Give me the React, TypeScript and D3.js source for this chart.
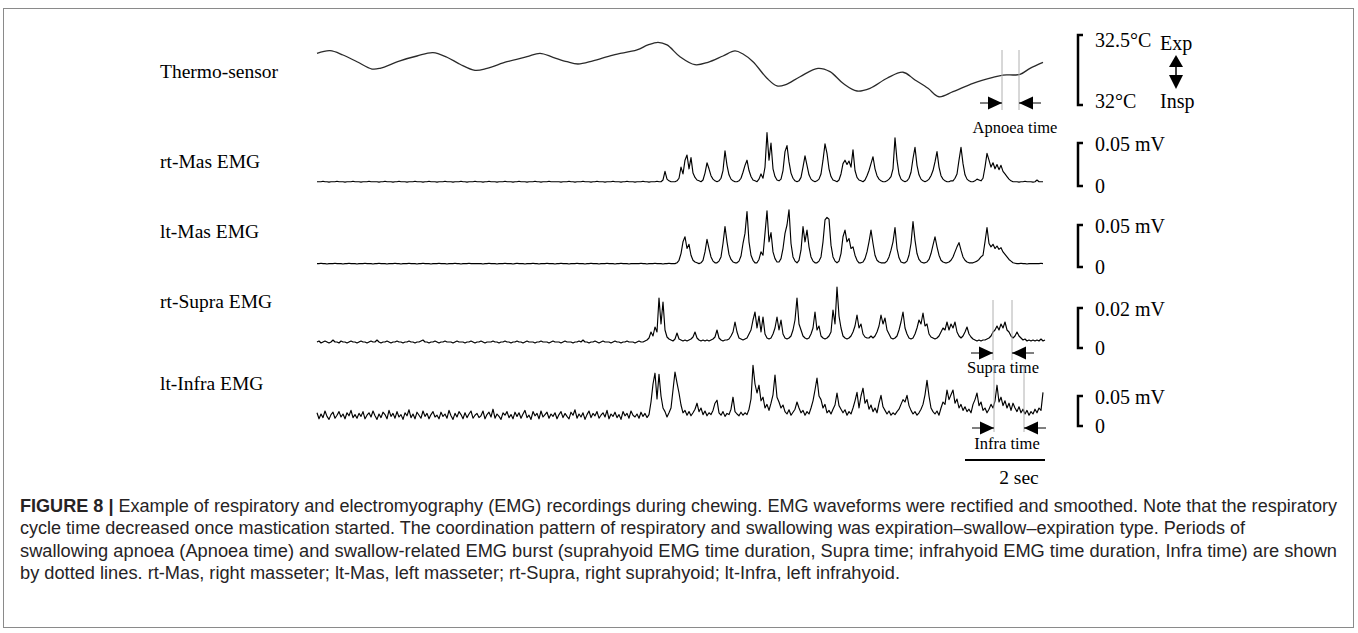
import React from 'react';
import * as d3 from 'd3';

// ---------------- DATA ----------------
const SAMPLE_DT = 0.05; // seconds between EMG samples
const TIME_DOMAIN: [number, number] = [0, 18.2];

// Thermo-sensor (nasal temperature, °C) breakpoints
const thermoTime = [0, 0.325, 0.65, 1.0, 1.375, 1.575, 2.075, 2.5, 2.9, 3.25, 3.575, 3.95, 4.25, 4.75, 5.25, 5.575, 5.9, 6.25, 6.525, 6.9, 7.4, 8.0, 8.275, 8.525, 8.75, 9.075, 9.45, 9.775, 10.15, 10.45, 10.65, 10.9, 11.25, 11.5, 11.7, 12.075, 12.525, 12.825, 13.15, 13.5, 13.825, 14.25, 14.65, 14.95, 15.275, 15.55, 15.9, 16.4, 16.9, 17.15, 17.575, 17.825, 18.15];
const thermoTemp = [32.369, 32.388, 32.357, 32.309, 32.257, 32.262, 32.316, 32.35, 32.374, 32.341, 32.291, 32.248, 32.262, 32.309, 32.345, 32.369, 32.341, 32.309, 32.293, 32.316, 32.357, 32.393, 32.429, 32.448, 32.429, 32.345, 32.288, 32.305, 32.35, 32.386, 32.364, 32.309, 32.191, 32.136, 32.143, 32.202, 32.262, 32.238, 32.155, 32.1, 32.119, 32.191, 32.234, 32.179, 32.119, 32.059, 32.095, 32.155, 32.198, 32.214, 32.219, 32.262, 32.305];

// Rectified & smoothed EMG, µV, one sample every SAMPLE_DT (20 samples per second per row)
const rtMasUV = [
  5,5,5,5.5,5,5,4.5,5,5,5,5.5,5,5,5,4.5,5,5,5,5.5,5,
  5,5,4.5,5,5,5,5.5,5,5,5,5,4.5,5,5,5.5,5,5,5,4.5,5,
  5,5.5,5,5,5,4.5,5,5,5,5.5,5,5,5,4.5,5,5,5.5,5,5,5,
  4.5,5,5,5,5.5,5,5,5,4.5,5,5,5,5.5,5,5,4.5,5,5,5,5.5,
  5,5,5,4.5,5,5,5.5,5,5,5,4.5,5,5,5,5.5,5,5,5,4.5,5,
  5,5.5,5,5,5,4.5,5,5,5,5.5,5,5,4.5,5,5,5,5.5,5,5,5,
  5,5,4.5,5,5,5,5.5,5,5,4.5,5,5,5,5.5,5,5,5,4.5,5,5,
  5.5,5,5,5,4.5,5,5,5,5.5,5,5,5,4.5,5,5,5.5,5,5,5,4.5,
  5,5,5,5.5,5,5,4.5,5,5,5,5.5,5,5,7,17,8,6,5,5,5,
  6,9,22,14,30,36,20,33,15,10,7,6,5,7,15,27,20,12,8,6,
  5,6,9,18,41,24,13,8,6,5,5,6,9,16,24,30,18,11,7,6,
  5,8,14,9,22,62,30,50,20,11,7,6,8,18,40,47,28,15,9,6,
  5,6,10,22,35,24,13,8,6,5,6,8,14,30,49,38,20,11,7,6,
  5,7,14,26,30,25,29,22,42,18,10,7,6,5,7,12,18,26,34,20,
  12,8,6,5,5,6,8,11,20,56,30,14,8,6,5,6,9,16,32,45,
  24,13,8,6,5,6,8,12,18,28,40,22,12,8,6,5,5,6,6,9,
  14,30,45,26,13,8,6,5,5,6,8,7,6,9,22,38,30,22,27,20,
  25,19,24,17,14,11,8,6,5,5,5,4.5,5,5,5.5,5,5,5,4.5,5,
  7,5,5,5,
];

const ltMasUV = [
  4,4,4.5,4,4,3.5,4,4,4,4.5,4,4,4,3.5,4,4,4.5,4,4,4,
  3.5,4,4,4,4.5,4,4,4,3.5,4,4,4.5,4,4,4,3.5,4,4,4,4.5,
  4,4,3.5,4,4,4,4.5,4,4,4,3.5,4,4,4.5,4,4,4,3.5,4,4,
  4,4.5,4,4,4,3.5,4,4,4,4.5,4,4,3.5,4,4,4,4.5,4,4,4,
  4,4,4,3.5,4,4,4.5,4,4,4,3.5,4,4,4,4.5,4,4,4,3.5,4,
  4.5,4,4,4,3.5,4,4,4,4.5,4,4,3.5,4,4,4,4.5,4,4,4,3.5,
  4,4,4.5,4,4,4,3.5,4,4,4,4.5,4,4,4,3.5,4,4,4.5,4,4,
  4,3.5,4,4,4,4.5,4,4,4,3.5,4,4,4.5,4,4,4,3.5,4,4,4,
  4,4,4.5,4,4,3.5,4,4,4,4.5,4,4,4,3.5,4,4,4.5,4,4,4,
  5,8,16,30,36,22,27,14,8,6,5,4,5,8,18,33,22,12,7,5,
  5,7,12,28,48,30,15,9,6,5,5,7,13,28,40,66,30,14,8,5,
  5,9,18,14,40,67,30,41,18,10,6,6,10,22,40,50,68,28,12,7,
  5,8,20,48,30,44,24,12,7,5,5,7,12,30,56,59,57,26,12,7,
  5,7,16,36,44,30,34,22,24,14,8,5,5,6,10,18,30,44,28,14,
  8,6,5,5,5,7,12,20,30,47,22,11,6,5,5,7,14,28,54,32,
  16,9,6,5,5,6,9,16,26,36,24,14,8,6,5,5,6,8,12,18,
  24,29,20,12,8,6,5,5,5,6,7,9,12,14,30,47,28,24,27,22,
  25,21,23,18,15,12,9,7,5,4.5,4,4,4.5,4,4,3.5,4,4,4,4,
  4,4,4.5,4,
];

const rtSupraUV = [
  3,3.5,2.5,3,3.5,3,2.5,3,4,3,3,2.5,3.5,3,3,2.5,3,3.5,3,3,
  2.5,3,3.5,3,3,2.5,3,3.5,3,3,4,3,2.5,3,3,3.5,3,2.5,3,3,
  3.5,3,3,2.5,3,3,3.5,3,3,2.5,3,3,3.5,4,3,3,2.5,3,3,3.5,
  3,2.5,3,3,3.5,3,3,3,2.5,3,3.5,3,3,3,2.5,3,3,3.5,3,2.5,
  3,3,3.5,3,2.5,3,3,3,3.5,3,3,2.5,3,3,3.5,3,3,2.5,3,3,
  3.5,3,3,2.5,3,3.5,3,3,3,2.5,3,3,3.5,3,3,3,2.5,3,3.5,3,
  3,3,2.5,3,3.5,3,3,3,2.5,3,3,3.5,3,4,3,3,2.5,3,3,3.5,
  3,2.5,3,3.5,3,3,3,2.5,3,3.5,3,3,2.5,3,3,3.5,3,3,3,2.5,
  3,3.5,3,3,3.5,4,5,8,6,10.5,8,25,12,23,9,5.5,4.5,4,3.5,4.5,
  7.5,4.5,4,3.5,4,3.5,4,4.5,5.5,8,5,4,3.5,4,3.5,4,3.5,4,4.5,5.5,
  9,5,4,3.5,4,4,4.5,6,8,13,8,5,4.5,4,4.5,5,7,9,14,18,
  10,16,8,15.5,7,5,4.5,5,7,10,15.5,9,14,7,5,4.5,5,6,9,14,
  25,12,9,6,5,4.5,5,7,10,18,9,11,6,5,4.5,5,6,8,19,12,
  30.5,16,10,6,5,4.5,5,6,8,11,16.5,10,12,7,5.5,5,5,6,5,6,
  8,11,16.5,12,15,9,7,5,4.5,5,6,9,13,18,10,7,5,4.5,5,7,
  10,14,12,17.5,11,12,7,5.5,5,4.5,5,6,8,10,9,13,9,12,10,13,
  8,6,5,6,8,10.5,7,5.5,4.5,4,3.5,4,3.5,4,4,4.5,5,6,8,9,
  11,9,12,10,13,9,8,6,5,6,8,6,5,4,4.5,3.5,4,3.5,4,3.5,
  4,3.5,4.5,3.5,4,
];

const ltInfraUV = [
  22,12,20,14,25,16,11,19,23,13,18,24,15,20,12,22,17,26,14,19,
  13,21,16,24,12,18,22,15,25,17,11,20,14,23,19,12,26,16,21,13,
  24,15,19,11,22,17,27,14,20,12,23,18,13,25,16,21,12,19,24,15,
  18,12,23,16,20,13,26,17,11,21,15,24,19,12,22,14,20,25,13,18,
  21,14,17,25,12,19,23,15,28,13,20,16,11,22,18,24,14,19,12,23,
  16,22,13,20,26,14,18,11,24,17,21,12,25,15,19,23,13,20,16,22,
  12,19,24,14,21,16,12,23,18,27,13,20,15,22,11,19,25,14,21,17,
  24,13,18,22,15,26,12,20,16,23,14,19,11,24,17,21,13,25,18,15,
  20,13,23,16,21,14,19,40,70,88,45,86,50,30,24,15,22,30,60,90,
  72,55,35,22,26,18,24,17,22,28,38,24,30,19,25,17,22,19,26,38,
  43,22,18,24,16,21,19,28,48,24,20,17,23,18,22,19,28,45,101,70,
  55,68,42,48,30,36,26,38,52,85,48,40,30,35,24,20,27,18,23,28,
  40,30,22,26,18,24,20,30,42,60,80,50,44,30,36,22,26,20,28,35,
  55,34,28,22,27,18,24,20,30,42,56,30,50,63,38,44,28,35,24,30,
  22,38,51,32,26,20,25,18,22,19,24,28,36,44,40,51,34,26,20,24,
  18,22,28,36,52,76,50,30,24,20,25,18,30,40,36,60,44,52,60,38,
  45,30,36,26,32,24,28,22,36,44,55,34,40,26,30,22,28,36,30,42,
  68,40,48,34,42,30,38,26,38,30,24,32,22,28,20,26,18,24,20,28,
  22,30,26,56,
];

// Labels and scale-bar texts
const traceLabels = ['Thermo-sensor', 'rt-Mas EMG', 'lt-Mas EMG', 'rt-Supra EMG', 'lt-Infra EMG'];
const scaleTopLabels = ['32.5°C', '0.05 mV', '0.05 mV', '0.02 mV', '0.05 mV'];
const scaleBottomLabels = ['32°C', '0', '0', '0', '0'];

// Event markers (seconds)
const apnoeaTimes: [number, number] = [17.125, 17.55];
const supraTimes: [number, number] = [16.9, 17.375];
const infraTimes: [number, number] = [16.925, 17.675];
const timeBarSec = 2;

const captionLines = [
  'Example of respiratory and electromyography (EMG) recordings during chewing. EMG waveforms were rectified and smoothed. Note that the respiratory',
  'cycle time decreased once mastication started. The coordination pattern of respiratory and swallowing was expiration–swallow–expiration type. Periods of',
  'swallowing apnoea (Apnoea time) and swallow-related EMG burst (suprahyoid EMG time duration, Supra time; infrahyoid EMG time duration, Infra time) are shown',
  'by dotted lines. rt-Mas, right masseter; lt-Mas, left masseter; rt-Supra, right suprahyoid; lt-Infra, left infrahyoid.',
];

// ---------------- LAYOUT ----------------
const W = 1358;
const H = 633;
const SERIF = '"Liberation Serif", "Times New Roman", Times, serif';
const SANS = '"Liberation Sans Narrow", "Liberation Sans", Arial, sans-serif';

const x = d3.scaleLinear().domain(TIME_DOMAIN).range([317, 1045]);

const panels = [
  { values: null as number[] | null, domain: [32, 32.5], range: [105, 35], labelY: 78 },
  { values: rtMasUV, domain: [0, 50], range: [186, 143], labelY: 168 },
  { values: ltMasUV, domain: [0, 50], range: [267, 225], labelY: 238 },
  { values: rtSupraUV, domain: [0, 20], range: [348, 308], labelY: 308 },
  { values: ltInfraUV, domain: [0, 50], range: [426, 396], labelY: 390 },
];

const BRACKET_X = 1078;

function Marker({ times, yTop, yBottom, yArrow, label, labelX, labelY }: {
  times: [number, number]; yTop: number; yBottom: number; yArrow: number; label: string; labelX: number; labelY: number;
}) {
  const x0 = x(times[0]);
  const x1 = x(times[1]);
  const tw = 14;
  const th = 6.5;
  return (
    <g>
      <line x1={x0} x2={x0} y1={yTop} y2={yBottom} stroke="#b0b0b0" strokeWidth={1} />
      <line x1={x1} x2={x1} y1={yTop} y2={yBottom} stroke="#b0b0b0" strokeWidth={1} />
      <line x1={x0 - 22} x2={x0} y1={yArrow} y2={yArrow} stroke="#000" strokeWidth={1} />
      <polygon points={`${x0 - tw},${yArrow - th} ${x0},${yArrow} ${x0 - tw},${yArrow + th}`} fill="#000" />
      <line x1={x1} x2={x1 + 22} y1={yArrow} y2={yArrow} stroke="#000" strokeWidth={1} />
      <polygon points={`${x1 + tw},${yArrow - th} ${x1},${yArrow} ${x1 + tw},${yArrow + th}`} fill="#000" />
      <text x={labelX} y={labelY} textAnchor="middle" fontFamily={SERIF} fontSize={16.5} fill="#000">{label}</text>
    </g>
  );
}

export default function App() {
  const thermoY = d3.scaleLinear().domain(panels[0].domain).range(panels[0].range);
  const thermoLine = d3.line<number>()
    .x((_, i) => x(thermoTime[i]))
    .y((d) => thermoY(d))
    .curve(d3.curveCatmullRom.alpha(0.5));

  return (
    <svg width={W} height={H} style={{ position: 'absolute', left: 0, top: 0, background: '#fff' }}>
      <rect x={3.5} y={8.5} width={1350} height={619} fill="#fff" stroke="#8a8a8a" strokeWidth={1} />

      {/* trace labels */}
      {traceLabels.map((t, i) => (
        <text key={t} x={160} y={panels[i].labelY} fontFamily={SERIF} fontSize={19.5} fill="#000">{t}</text>
      ))}

      {/* thermo trace */}
      <path d={thermoLine(thermoTemp) || ''} fill="none" stroke="#2a2a2a" strokeWidth={1.3} />

      {/* EMG traces */}
      {panels.slice(1).map((p, k) => {
        const y = d3.scaleLinear().domain(p.domain).range(p.range);
        const ln = d3.line<number>().x((_, i) => x(i * SAMPLE_DT)).y((v) => y(v));
        return <path key={k} d={ln(p.values as number[]) || ''} fill="none" stroke="#000" strokeWidth={1.15} strokeLinejoin="round" />;
      })}

      {/* scale brackets */}
      {panels.map((p, i) => {
        const y = d3.scaleLinear().domain(p.domain).range(p.range);
        const yt = y(p.domain[1]);
        const yb = y(p.domain[0]);
        return (
          <g key={'b' + i}>
            <path d={`M${BRACKET_X + 5},${yt} H${BRACKET_X} V${yb} H${BRACKET_X + 5}`} fill="none" stroke="#000" strokeWidth={2.5} />
            <text x={1095} y={i === 0 ? yt + 12 : yt + 8} fontFamily={SERIF} fontSize={20} fill="#000">{scaleTopLabels[i]}</text>
            <text x={1095} y={i === 0 ? yb + 3 : yb + 7} fontFamily={SERIF} fontSize={20} fill="#000">{scaleBottomLabels[i]}</text>
          </g>
        );
      })}

      {/* Exp / Insp arrow */}
      <text x={1160} y={50} fontFamily={SERIF} fontSize={20} fill="#000">Exp</text>
      <text x={1160} y={108} fontFamily={SERIF} fontSize={20} fill="#000">Insp</text>
      <polygon points="1176,55 1169,67 1183,67" fill="#000" />
      <line x1={1176} x2={1176} y1={66} y2={76} stroke="#000" strokeWidth={1.5} />
      <polygon points="1176,89 1169,75 1183,75" fill="#000" />

      {/* markers */}
      <Marker times={apnoeaTimes} yTop={50} yBottom={110} yArrow={103} label="Apnoea time" labelX={1015} labelY={133} />
      <Marker times={supraTimes} yTop={300} yBottom={360} yArrow={353} label="Supra time" labelX={1003} labelY={373} />
      <Marker times={infraTimes} yTop={365} yBottom={432} yArrow={428} label="Infra time" labelX={1007} labelY={449} />

      {/* time bar */}
      <line x1={x(TIME_DOMAIN[1] - timeBarSec)} x2={x(TIME_DOMAIN[1])} y1={460} y2={460} stroke="#000" strokeWidth={2} />
      <text x={(x(TIME_DOMAIN[1] - timeBarSec) + x(TIME_DOMAIN[1])) / 2 + 14} y={484} textAnchor="middle" fontFamily={SERIF} fontSize={19.5} fill="#000">2 sec</text>

      {/* caption */}
      <g fontFamily={SANS} fontSize={17.5} fill="#262324">
        <text x={20} y={512} textLength={1317} lengthAdjust="spacingAndGlyphs">
          <tspan fontWeight="bold">FIGURE 8 | </tspan>{captionLines[0]}
        </text>
        <text x={20} y={534} textLength={1225} lengthAdjust="spacingAndGlyphs">{captionLines[1]}</text>
        <text x={20} y={557} textLength={1317} lengthAdjust="spacingAndGlyphs">{captionLines[2]}</text>
        <text x={20} y={579} textLength={880} lengthAdjust="spacingAndGlyphs">{captionLines[3]}</text>
      </g>
    </svg>
  );
}
